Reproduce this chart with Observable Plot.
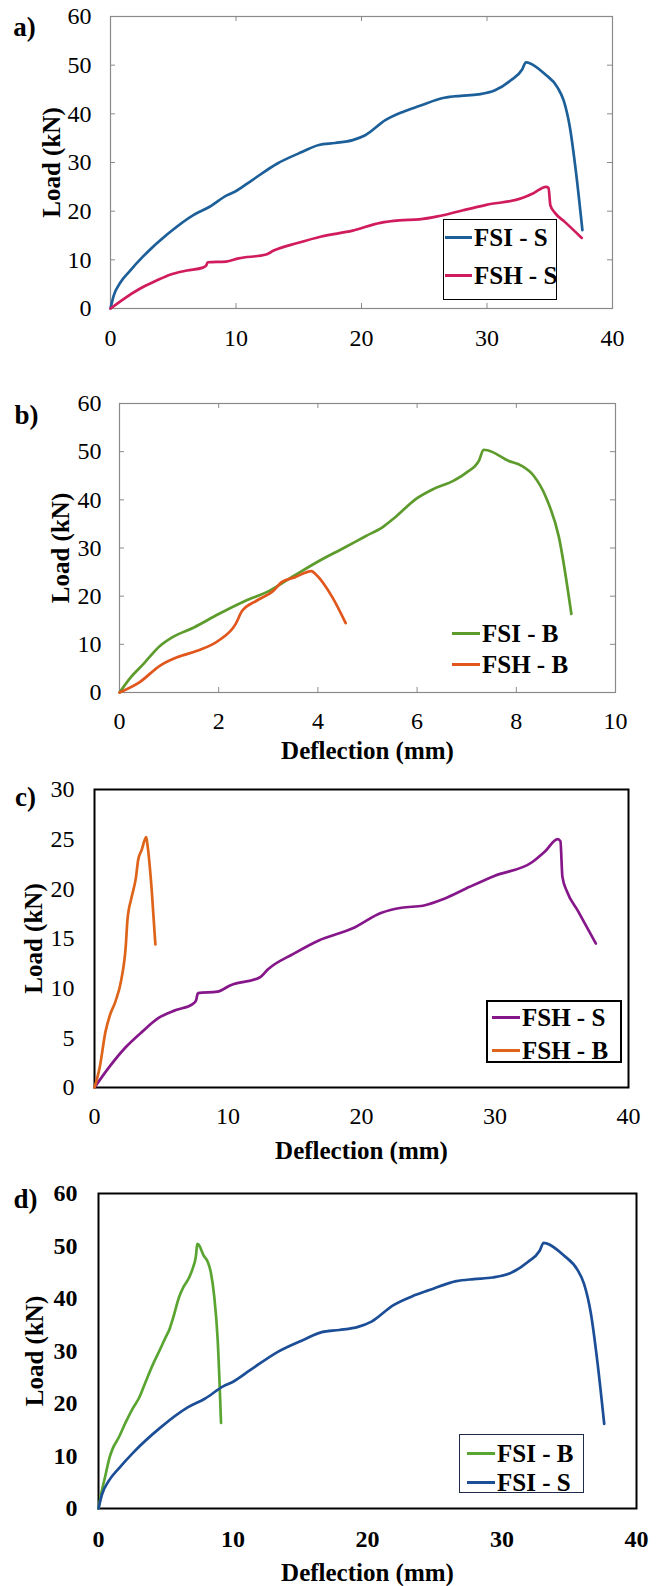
<!DOCTYPE html>
<html><head><meta charset="utf-8">
<script src="https://cdn.jsdelivr.net/npm/d3@7"></script>
<script src="https://cdn.jsdelivr.net/npm/@observablehq/plot@0.6"></script>
<style>
body{margin:0;background:#fff;font-family:'Liberation Serif',serif;}
#root{position:relative;width:657px;height:1586px;overflow:hidden;font-family:'Liberation Serif',serif;}
.pan{position:absolute;left:0;}
.leg{position:absolute;font-weight:bold;font-size:25px;color:#000;font-family:'Liberation Serif',serif;}
.box{position:absolute;background:#fff;box-sizing:border-box;}
.item{position:absolute;display:flex;align-items:center;white-space:nowrap;line-height:1;}
.sw{display:inline-block;height:3px;margin-right:2px;}
</style></head>
<body><div id="root"></div>
<script>
// ---- data (deflection mm, load kN) ----
const fsiS_x = [0, 0.25, 0.8, 1.5, 2.6, 4.6, 6.6, 7.9, 9.3, 9.9, 11.3, 13.3, 15.3, 16.6, 17.9, 19.3, 20.3, 21.9, 23.3, 24.6, 26.6, 27.9, 29.3, 30.6, 31.9, 32.8, 33.1, 33.3, 34.6, 35.6, 36.1, 36.6, 37.1, 37.6];
const fsiS_y = [0, 2.6, 5.4, 7.6, 10.7, 15.4, 19.2, 20.9, 23.3, 24.0, 26.4, 29.8, 32.2, 33.6, 34.0, 34.6, 35.6, 38.7, 40.4, 41.6, 43.3, 43.7, 44.0, 44.8, 46.9, 49.1, 50.6, 50.5, 48.2, 45.5, 42.8, 37.3, 27.8, 16.1];
const fshS_x = [0, 1.07, 2.3, 3.6, 4.8, 6.1, 7.35, 7.6, 7.75, 9.2, 10.2, 12.4, 13.0, 14.9, 16.8, 19.3, 21.5, 23.0, 24.6, 26.2, 28.1, 29.95, 32.8, 33.7, 34.7, 34.9, 35.05, 35.4, 36.2, 37.55];
const fshS_y = [0, 2.0, 4.0, 5.65, 7.0, 7.8, 8.4, 8.75, 9.5, 9.65, 10.3, 11.1, 11.9, 13.45, 14.8, 16.0, 17.6, 18.1, 18.3, 19.0, 20.2, 21.3, 22.7, 23.7, 25.0, 24.8, 21.2, 19.7, 17.8, 14.5];
const fsiB_x = [0, 0.23, 0.48, 0.82, 1.07, 1.5, 2.0, 2.51, 3.02, 3.53, 4.04, 4.54, 4.97, 5.3, 5.56, 5.98, 6.32, 6.74, 7.0, 7.25, 7.34, 7.42, 7.84, 8.1, 8.35, 8.6, 8.86, 9.11];
const fsiB_y = [0, 3.2, 5.9, 9.7, 11.5, 13.5, 16.3, 18.9, 21.1, 24.3, 27.4, 30.1, 32.5, 34.3, 36.4, 40.2, 42.2, 44.0, 45.7, 48.2, 50.4, 50.3, 48.1, 47.1, 45.0, 40.5, 32.2, 16.3];
const fshB_x = [0, 0.4, 0.82, 1.16, 1.58, 2.0, 2.34, 2.47, 2.77, 3.1, 3.27, 3.53, 3.87, 3.95, 4.29, 4.56];
const fshB_y = [0, 2.1, 5.6, 7.3, 8.7, 10.8, 14.2, 16.9, 19.1, 21.1, 22.9, 23.9, 25.2, 24.6, 19.8, 14.4];

const ticks40 = [0, 10, 20, 30, 40];
const ticks10 = [0, 2, 4, 6, 8, 10];
const ticks60 = [0, 10, 20, 30, 40, 50, 60];
const ticks30 = [0, 5, 10, 15, 20, 25, 30];
const yTitle = "Load (kN)";
const xTitle = "Deflection (mm)";

const FONT = "Liberation Serif";
const toRows = (xs, ys) => xs.map((x, i) => ({x, y: ys[i]}));

function panel(o) {
  const W = 657;
  const innerW = W - o.ml - o.mr, innerH = o.h - o.mt - o.mb;
  const marks = [];
  if (o.gray) {
    const g = "#8a8a8a";
    marks.push(Plot.tickX(o.xTicks, {x: d => d, insetTop: innerH - 5, stroke: g}));
    marks.push(Plot.tickX(o.xTicks, {x: d => d, insetBottom: innerH - 5, stroke: g}));
    marks.push(Plot.tickY(o.yTicks, {y: d => d, insetRight: innerW - 5, stroke: g}));
    marks.push(Plot.tickY(o.yTicks, {y: d => d, insetLeft: innerW - 5, stroke: g}));
    marks.push(Plot.frame({stroke: g, strokeWidth: 1.2}));
  } else {
    marks.push(Plot.frame({stroke: "#000", strokeWidth: 2}));
  }
  for (const s of o.series) {
    marks.push(Plot.line(toRows(s.x, s.y), {x: "x", y: "y", stroke: s.color, strokeWidth: 2.7, curve: "monotone-x"}));
  }
  const fw = o.bold ? "bold" : "normal";
  marks.push(Plot.axisX({ticks: o.xTicks, tickSize: 0, tickPadding: o.xPad, label: null, fontWeight: fw, tickFormat: d => String(d)}));
  marks.push(Plot.axisY({ticks: o.yTicks, tickSize: 0, tickPadding: o.yPad, label: null, fontWeight: fw, tickFormat: d => String(d)}));
  marks.push(Plot.text([yTitle], {frameAnchor: "left", dx: o.yTitleDx, rotate: -90, textAnchor: "middle", lineAnchor: "middle", fontWeight: "bold", fontSize: 25}));
  if (o.xTitleDy) marks.push(Plot.text([xTitle], {frameAnchor: "bottom", dy: o.xTitleDy, textAnchor: "middle", lineAnchor: "middle", fontWeight: "bold", fontSize: 25}));
  marks.push(Plot.text([o.letter], {frameAnchor: "top-left", dx: o.letterDx, dy: o.letterDy, textAnchor: "middle", lineAnchor: "middle", fontWeight: "bold", fontSize: 27}));
  const svg = Plot.plot({
    width: W, height: o.h,
    marginTop: o.mt, marginBottom: o.mb, marginLeft: o.ml, marginRight: o.mr,
    x: {domain: o.xDomain}, y: {domain: o.yDomain},
    style: {fontSize: "24px", background: "transparent", color: "#000", overflow: "visible"},
    marks
  });
  svg.style.fontFamily = "'Liberation Serif', serif";
  svg.setAttribute("font-family", "Liberation Serif");
  svg.querySelectorAll("g, text").forEach(t => { t.setAttribute("font-family", "Liberation Serif"); t.style.fontFamily = "'Liberation Serif', serif"; });
  const div = document.createElement("div");
  div.className = "pan";
  div.style.top = o.top + "px";
  div.appendChild(svg);
  return div;
}

function legend(o) {
  const root = document.getElementById("root");
  if (o.box) {
    const b = document.createElement("div");
    b.className = "box";
    Object.assign(b.style, {left: o.box[0] + "px", top: o.box[1] + "px", width: o.box[2] + "px", height: o.box[3] + "px", border: o.border});
    root.appendChild(b);
  }
  o.items.forEach((it, i) => {
    const d = document.createElement("div");
    d.className = "item leg";
    d.style.left = o.x + "px";
    d.style.top = (o.y[i] - 13) + "px";
    d.style.height = "26px";
    d.style.fontFamily = "'Liberation Serif', serif";
    const sw = document.createElement("span");
    sw.className = "sw";
    sw.style.width = o.sw + "px";
    sw.style.background = it.color;
    d.appendChild(sw);
    const t = document.createElement("span");
    t.textContent = it.name;
    t.style.fontFamily = "'Liberation Serif', serif";
    d.appendChild(t);
    root.appendChild(d);
  });
}

const root = document.getElementById("root");
const C = {aBlue: "#1c5f99", aPink: "#d01c5c", bGreen: "#5c9b2c", bOrange: "#e0561c", cPurple: "#86178a", cOrange: "#dd6418", dGreen: "#5aa532", dBlue: "#1b4e96"};

root.appendChild(panel({top: 0, h: 370, mt: 16, mb: 62, ml: 110, mr: 45, xDomain: [0, 40], yDomain: [0, 60], xTicks: ticks40, yTicks: ticks60, gray: true, xPad: 20, yPad: 19, yTitleDx: -59, letter: "a)", letterDx: 24 - 110, letterDy: 27 - 16,
  series: [{x: fsiS_x, y: fsiS_y, color: C.aBlue}, {x: fshS_x, y: fshS_y, color: C.aPink}]}));
root.appendChild(panel({top: 370, h: 395, mt: 33, mb: 73, ml: 119, mr: 42, xDomain: [0, 10], yDomain: [0, 60], xTicks: ticks10, yTicks: ticks60, gray: true, xPad: 19, yPad: 18, yTitleDx: -59, xTitleDy: 58, letter: "b)", letterDx: 26 - 119, letterDy: 415 - 403,
  series: [{x: fsiB_x, y: fsiB_y, color: C.bGreen}, {x: fshB_x, y: fshB_y, color: C.bOrange}]}));
root.appendChild(panel({top: 765, h: 400, mt: 24, mb: 78, ml: 94, mr: 29, xDomain: [0, 40], yDomain: [0, 30], xTicks: ticks40, yTicks: ticks30, gray: false, xPad: 19, yPad: 20, yTitleDx: -61, xTitleDy: 63, letter: "c)", letterDx: 25 - 94, letterDy: 797 - 789,
  series: [{x: fshS_x, y: fshS_y, color: C.cPurple}, {x: fshB_x, y: fshB_y, color: C.cOrange}]}));
root.appendChild(panel({top: 1165, h: 421, mt: 28, mb: 78, ml: 98, mr: 21, xDomain: [0, 40], yDomain: [0, 60], xTicks: ticks40, yTicks: ticks60, gray: false, bold: true, xPad: 21, yPad: 21, yTitleDx: -64, xTitleDy: 64, letter: "d)", letterDx: 25 - 98, letterDy: 1199 - 1193,
  series: [{x: fsiB_x, y: fsiB_y, color: C.dGreen}, {x: fsiS_x, y: fsiS_y, color: C.dBlue}]}));

legend({box: [443, 219, 114, 81], border: "1.5px solid #000", x: 445, y: [237, 275], sw: 27, items: [{name: "FSI - S", color: C.aBlue}, {name: "FSH - S", color: C.aPink}]});
legend({x: 452, y: [633, 664], sw: 28, items: [{name: "FSI - B", color: C.bGreen}, {name: "FSH - B", color: C.bOrange}]});
legend({box: [486, 1000, 136, 63], border: "2px solid #000", x: 492, y: [1017, 1050], sw: 28, items: [{name: "FSH - S", color: C.cPurple}, {name: "FSH - B", color: C.cOrange}]});
legend({box: [459, 1434, 125, 59], border: "1.5px solid #1f2a4a", x: 467, y: [1453, 1482], sw: 28, items: [{name: "FSI - B", color: C.dGreen}, {name: "FSI - S", color: C.dBlue}]});
</script></body></html>
